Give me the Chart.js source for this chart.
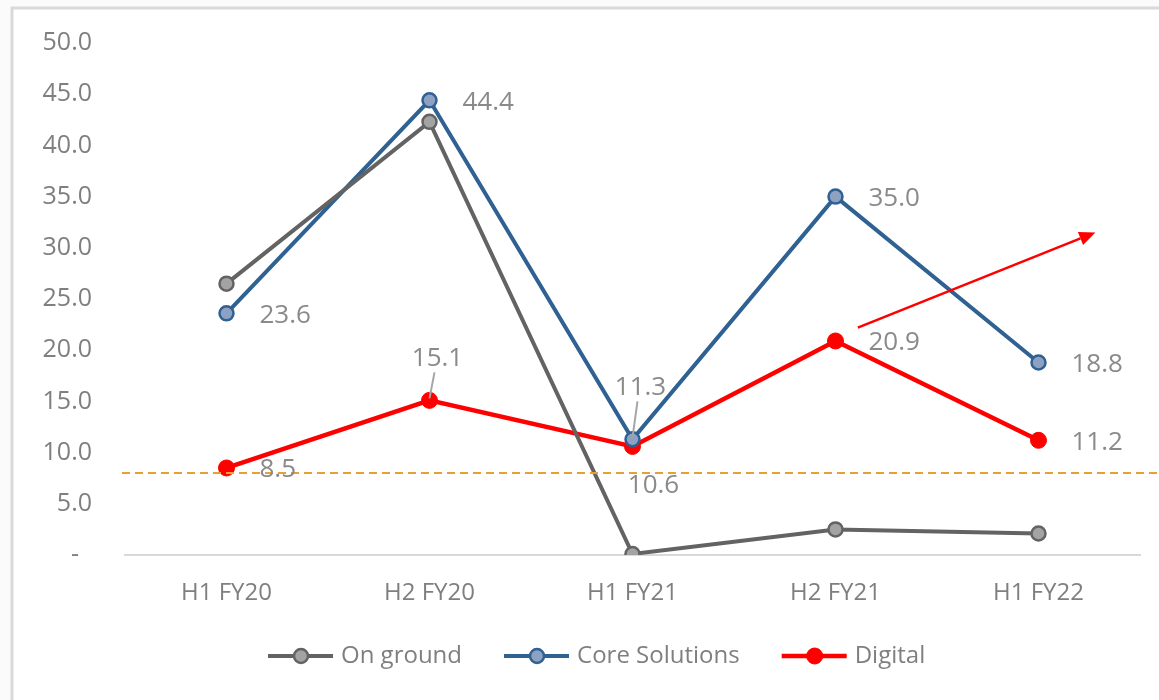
<!DOCTYPE html>
<html>
<head>
<meta charset="utf-8">
<script src="https://cdn.jsdelivr.net/npm/chart.js@4.4.1/dist/chart.umd.min.js"></script>
<style>
  html, body { margin: 0; padding: 0; background: #fbfbfb; }
  #wrap { position: relative; width: 1159px; height: 700px; }
</style>
</head>
<body>
<div id="wrap"><canvas id="myChartLine"></canvas></div>
<script>
const categories = ['H1 FY20', 'H2 FY20', 'H1 FY21', 'H2 FY21', 'H1 FY22'];
const onGround = [26.5, 42.3, 0.1, 2.5, 2.1];
const coreSolutions = [23.6, 44.4, 11.3, 35.0, 18.8];
const digital = [8.5, 15.1, 10.6, 20.9, 11.2];
const yTicks = [0, 5, 10, 15, 20, 25, 30, 35, 40, 45, 50];
const thresholdValue = 8.0;
// arrow in data units: [category index, value]
const arrowFrom = [3.11, 22.2];
const arrowTo = [4.28, 31.5];
// where each data label sits
const coreLabelPos = ['right', 'right', 'above', 'right', 'right'];
const digitalLabelPos = ['right', 'above', 'below', 'right', 'right'];

const FONT = '"Open Sans", "DejaVu Sans", sans-serif';
const labelColor = '#8a8a8a';

const extras = {
  id: 'extras',
  beforeDraw(chart) {
    const c = chart.ctx;
    c.save();
    c.fillStyle = '#ffffff';
    c.fillRect(12, 8, chart.width - 12, chart.height - 8);
    c.strokeStyle = '#d9d9d9';
    c.lineWidth = 3;
    c.beginPath();
    c.moveTo(12, chart.height);
    c.lineTo(12, 8);
    c.lineTo(chart.width, 8);
    c.stroke();
    c.restore();
  },
  afterDatasetsDraw(chart) {
    const c = chart.ctx;
    const xs = chart.scales.x, ys = chart.scales.y;
    c.save();
    // dashed threshold line
    const yy = ys.getPixelForValue(thresholdValue);
    c.strokeStyle = '#e8a035';
    c.lineWidth = 2;
    c.setLineDash([8, 5]);
    c.beginPath();
    c.moveTo(xs.left - 3, yy);
    c.lineTo(chart.width, yy);
    c.stroke();
    c.setLineDash([]);

    // data labels
    c.font = '26px ' + FONT;
    c.fillStyle = labelColor;
    c.textBaseline = 'middle';
    const drawLabels = (dsIndex, values, pos) => {
      const meta = chart.getDatasetMeta(dsIndex);
      meta.data.forEach((pt, i) => {
        const txt = values[i].toFixed(1);
        if (pos[i] === 'right') {
          c.textAlign = 'left';
          c.fillText(txt, pt.x + 33, pt.y + 2);
        } else if (pos[i] === 'above') {
          c.textAlign = 'center';
          const ty = dsIndex === 1 ? pt.y - 52 : pt.y - 42;
          c.fillText(txt, pt.x + 8, ty);
          c.strokeStyle = '#a6a6a6';
          c.lineWidth = 2;
          c.beginPath();
          c.moveTo(pt.x, pt.y - 2);
          c.lineTo(pt.x + 5, ty + 14);
          c.stroke();
        } else {
          c.textAlign = 'center';
          c.fillText(txt, pt.x + 21, pt.y + 39);
        }
      });
    };
    drawLabels(1, coreSolutions, coreLabelPos);
    drawLabels(2, digital, digitalLabelPos);

    // red arrow
    const x1 = xs.getPixelForValue(arrowFrom[0]), y1 = ys.getPixelForValue(arrowFrom[1]);
    const x2 = xs.getPixelForValue(arrowTo[0]), y2 = ys.getPixelForValue(arrowTo[1]);
    const ang = Math.atan2(y2 - y1, x2 - x1);
    const hl = 16, hw = 7;
    c.strokeStyle = '#ff0000';
    c.fillStyle = '#ff0000';
    c.lineWidth = 2.5;
    c.beginPath();
    c.moveTo(x1, y1);
    c.lineTo(x2 - hl * Math.cos(ang), y2 - hl * Math.sin(ang));
    c.stroke();
    c.beginPath();
    c.moveTo(x2, y2);
    c.lineTo(x2 - hl * Math.cos(ang) + hw * Math.sin(ang), y2 - hl * Math.sin(ang) - hw * Math.cos(ang));
    c.lineTo(x2 - hl * Math.cos(ang) - hw * Math.sin(ang), y2 - hl * Math.sin(ang) + hw * Math.cos(ang));
    c.closePath();
    c.fill();

    // legend
    const legendY = 656;
    let lx = 268;
    c.font = '24px ' + FONT;
    c.textAlign = 'left';
    chart.data.datasets.forEach(ds => {
      c.strokeStyle = ds.borderColor;
      c.lineWidth = ds.borderWidth;
      c.beginPath();
      c.moveTo(lx, legendY);
      c.lineTo(lx + 65, legendY);
      c.stroke();
      c.beginPath();
      c.arc(lx + 33, legendY, ds.pointRadius, 0, Math.PI * 2);
      c.fillStyle = ds.pointBackgroundColor;
      c.fill();
      c.lineWidth = ds.pointBorderWidth;
      c.strokeStyle = ds.pointBorderColor;
      c.stroke();
      c.fillStyle = '#7f7f7f';
      c.fillText(ds.label, lx + 73, legendY);
      lx += 73 + c.measureText(ds.label).width + 42;
    });
    c.restore();
  }
};

const ctx = document.getElementById('myChartLine').getContext('2d');
const myChart = new Chart(ctx, {
  type: 'line',
  data: {
    labels: categories,
    datasets: [{
      label: 'On ground',
      data: onGround,
      borderColor: '#636363',
      borderWidth: 4,
      pointRadius: 7,
      pointBorderWidth: 2.5,
      pointBackgroundColor: '#a3a3a3',
      pointBorderColor: '#636363'
    }, {
      label: 'Core Solutions',
      data: coreSolutions,
      borderColor: '#2f6192',
      borderWidth: 4,
      pointRadius: 7,
      pointBorderWidth: 2.5,
      pointBackgroundColor: '#8da2c2',
      pointBorderColor: '#2f6192'
    }, {
      label: 'Digital',
      data: digital,
      borderColor: '#ff0000',
      borderWidth: 4.5,
      pointRadius: 8,
      pointBorderWidth: 1,
      pointBackgroundColor: '#ff0000',
      pointBorderColor: '#ff0000'
    }]
  },
  options: {
    responsive: true,
    maintainAspectRatio: false,
    animation: false,
    layout: { padding: { top: 43, right: 19, left: 0, bottom: 0 } },
    plugins: {
      legend: { display: false },
      tooltip: { enabled: false }
    },
    scales: {
      x: {
        offset: true,
        afterFit(scale) { scale.height = 145; },
        grid: { display: false, drawTicks: false },
        border: { display: true, color: '#d9d9d9', width: 2 },
        ticks: { color: '#7f7f7f', font: { family: FONT, size: 24 }, padding: 24 }
      },
      y: {
        min: 0,
        max: 50,
        afterFit(scale) {
          scale.width = 125;
          scale.paddingTop = 0;
          scale.paddingBottom = 0;
        },
        afterBuildTicks(scale) { scale.ticks = yTicks.map(v => ({ value: v })); },
        grid: { display: false, drawTicks: false },
        border: { display: false },
        ticks: {
          color: '#7f7f7f',
          font: { family: FONT, size: 25 },
          padding: 33,
          callback: v => v === 0 ? '-  ' : v.toFixed(1)
        }
      }
    }
  },
  plugins: [extras]
});
</script>
</body>
</html>
